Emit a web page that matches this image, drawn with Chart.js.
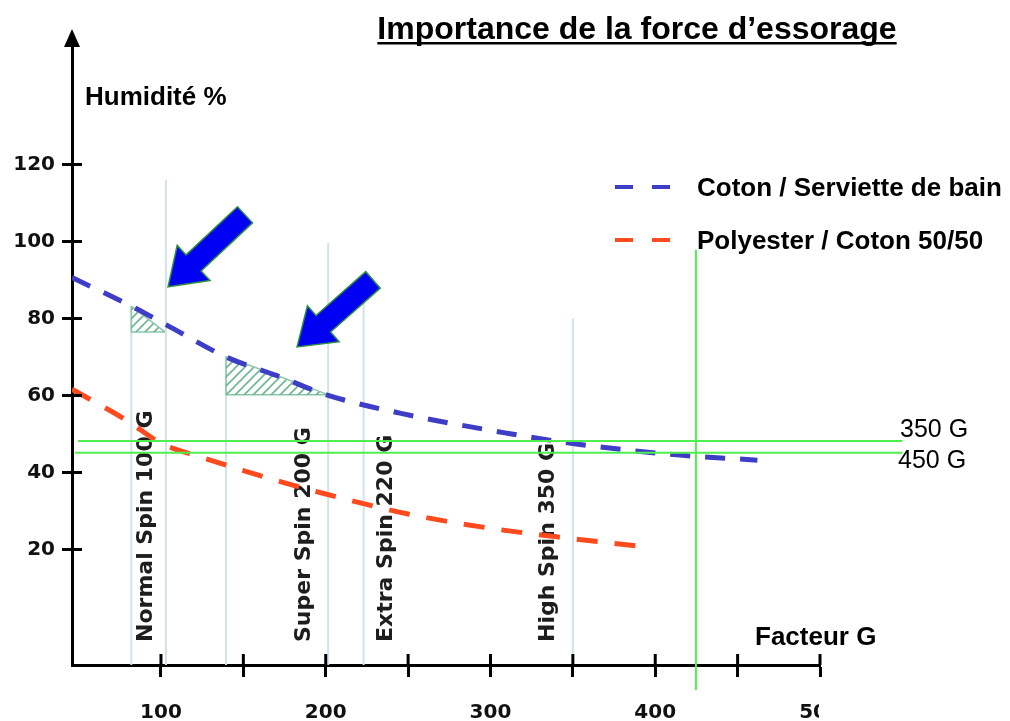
<!DOCTYPE html>
<html lang="fr">
<head>
<meta charset="utf-8">
<title>Importance de la force d’essorage</title>
<script src="https://cdn.jsdelivr.net/npm/chart.js"></script>
<style>
  html, body { margin: 0; padding: 0; background: #fff; }
  #wrap { width: 1010px; height: 721px; position: relative; }
</style>
</head>
<body>
<div id="wrap"><canvas id="graphique"></canvas></div>
<script>
// Courbes : humidité résiduelle (%) selon le facteur G
const facteurGCoton = [46, 82, 103, 139.5, 170, 201, 245, 310, 352, 415, 462];
const humiditeCoton = [90.6, 83.2, 78.4, 70.0, 65.2, 60.1, 55.4, 50.2, 47.4, 44.5, 43.2];
const facteurGPoly = [46, 80, 100, 125, 150, 175, 200, 250, 300, 350, 397];
const humiditePoly = [61.6, 53.3, 47.6, 43.9, 40.5, 37.3, 34.4, 29.2, 25.5, 22.8, 20.5];
const seriesLabels = ['Coton / Serviette de bain', 'Polyester / Coton 50/50'];

const yTicks = [20, 40, 60, 80, 100, 120];
const xTicks = [100, 150, 200, 250, 300, 350, 400, 450, 500];

// programmes d'essorage
const spinNames = ['Normal Spin 100 G', 'Super Spin 200 G', 'Extra Spin 220 G', 'High Spin 350 G'];
const spinLabelG = [91, 187, 237, 335];
const repereG = [82, 103, 139.5, 201.5, 223, 350];
const repereHaut = [83, 116, 70, 99.6, 87.4, 80];

// zones hachurées : g début, g fin, humidité haut, humidité bas
const zone1 = [82, 102.4, 83.2, 76.5];
const zone2 = [139.5, 201.4, 70.1, 60.2];

// flèches bleues : g queue, hum queue, g pointe, hum pointe
const fleche1 = [151, 106.9, 104.3, 88.2];
const fleche2 = [228.7, 90.0, 182.6, 72.6];

// repères verts 350 G / 450 G
const niveauxVerts = [48.2, 45.1];
const niveauxDebut = [49.6, 47.8];
const niveauxLabels = ['350 G', '450 G'];
const gVert = 424.7;
const gVertHaut = 97.8;

const Y_MIN = -10, Y_MAX = 151;
const X_MIN = 46, X_MAX = 500;

Chart.defaults.font.family = 'DejaVu Sans';

// motif de hachures
const hatchCanvas = document.createElement('canvas');
hatchCanvas.width = 9; hatchCanvas.height = 9;
const hctx = hatchCanvas.getContext('2d');
hctx.strokeStyle = 'rgba(95,175,135,0.9)';
hctx.lineWidth = 1.6;
hctx.beginPath();
hctx.moveTo(-1, 10); hctx.lineTo(10, -1);
hctx.moveTo(-1, 1); hctx.lineTo(1, -1);
hctx.moveTo(8, 10); hctx.lineTo(10, 8);
hctx.stroke();
const hatch = hctx.createPattern(hatchCanvas, 'repeat');

const pts = (xs, ys) => xs.map((x, i) => ({ x: x, y: ys[i] }));

const datasets = [
  {
    label: seriesLabels[0],
    data: pts(facteurGCoton, humiditeCoton),
    borderColor: '#3d3dc8',
    borderWidth: 5,
    borderDash: [20, 15],
    cubicInterpolationMode: 'monotone',
    pointRadius: 0,
    fill: false,
    order: 1
  },
  {
    label: seriesLabels[1],
    data: pts(facteurGPoly, humiditePoly),
    borderColor: '#ff4a1e',
    borderWidth: 5,
    borderDash: [21, 17],
    cubicInterpolationMode: 'monotone',
    pointRadius: 0,
    fill: false,
    order: 1
  }
];

repereG.forEach((g, i) => {
  datasets.push({
    data: [{ x: g, y: repereHaut[i] }, { x: g, y: Y_MIN }],
    borderColor: '#cfe3ea',
    borderWidth: 2,
    pointRadius: 0,
    fill: false,
    order: 5
  });
});

[zone1, zone2].forEach(z => {
  datasets.push({
    data: [{ x: z[0], y: z[2] }, { x: z[1], y: z[3] }],
    fill: { value: z[3] },
    backgroundColor: hatch,
    borderColor: '#8cc7aa',
    borderWidth: 1.5,
    pointRadius: 0,
    order: 3
  });
  datasets.push({
    data: [{ x: z[0], y: z[2] }, { x: z[0], y: z[3] }, { x: z[1], y: z[3] }],
    borderColor: '#8cc7aa',
    borderWidth: 1.5,
    pointRadius: 0,
    fill: false,
    order: 3
  });
});

niveauxVerts.forEach((v, i) => {
  datasets.push({
    data: [{ x: niveauxDebut[i], y: v }, { x: 550, y: v }],
    borderColor: '#4df04d',
    borderWidth: 2,
    pointRadius: 0,
    fill: false,
    clip: false,
    order: 0
  });
});
datasets.push({
  data: [{ x: gVert, y: gVertHaut }, { x: gVert, y: -16.5 }],
  borderColor: '#4df04d',
  borderWidth: 2,
  pointRadius: 0,
  fill: false,
  clip: false,
  order: 0
});

function drawArrow(ctx, x1, y1, x2, y2) {
  const ang = Math.atan2(y2 - y1, x2 - x1);
  const L = Math.hypot(x2 - x1, y2 - y1);
  const sw = 11, hw = 24, hl = 35;
  ctx.save();
  ctx.translate(x1, y1);
  ctx.rotate(ang);
  ctx.beginPath();
  ctx.moveTo(0, -sw);
  ctx.lineTo(L - hl, -sw);
  ctx.lineTo(L - hl, -hw);
  ctx.lineTo(L, 0);
  ctx.lineTo(L - hl, hw);
  ctx.lineTo(L - hl, sw);
  ctx.lineTo(0, sw);
  ctx.closePath();
  ctx.fillStyle = '#0000f2';
  ctx.fill();
  ctx.strokeStyle = '#2f8f3f';
  ctx.lineWidth = 1.5;
  ctx.stroke();
  ctx.restore();
}

const decor = {
  id: 'decor',
  beforeDatasetsDraw(chart) {
    const { ctx, scales: { x } } = chart;
    ctx.save();
    ctx.fillStyle = '#1e1e1e';
    ctx.font = 'bold 22px "DejaVu Sans"';
    ctx.textAlign = 'left';
    ctx.textBaseline = 'middle';
    spinNames.forEach((t, i) => {
      ctx.save();
      ctx.translate(x.getPixelForValue(spinLabelG[i]), 642);
      ctx.rotate(-Math.PI / 2);
      ctx.fillText(t, 0, 0);
      ctx.restore();
    });
    ctx.restore();
  },
  afterDatasetsDraw(chart) {
    const { ctx, scales: { x, y } } = chart;
    [fleche1, fleche2].forEach(f => {
      drawArrow(ctx, x.getPixelForValue(f[0]), y.getPixelForValue(f[1]),
        x.getPixelForValue(f[2]), y.getPixelForValue(f[3]));
    });
  },
  afterDraw(chart) {
    const { ctx, chartArea: a, scales: { x, y } } = chart;
    ctx.save();
    // graduations côté intérieur
    ctx.strokeStyle = '#000';
    ctx.lineWidth = 3;
    ctx.beginPath();
    yTicks.forEach(v => {
      const py = y.getPixelForValue(v);
      ctx.moveTo(a.left, py); ctx.lineTo(a.left + 10, py);
    });
    xTicks.forEach(v => {
      const px = x.getPixelForValue(v);
      ctx.moveTo(px, a.bottom); ctx.lineTo(px, a.bottom - 11);
    });
    ctx.stroke();
    // flèche de l'axe vertical
    ctx.beginPath();
    ctx.moveTo(a.left, a.top - 16);
    ctx.lineTo(a.left - 8, a.top + 2);
    ctx.lineTo(a.left + 8, a.top + 2);
    ctx.closePath();
    ctx.fillStyle = '#000';
    ctx.fill();

    // titre
    ctx.fillStyle = '#000';
    ctx.font = 'bold 32px "Liberation Sans"';
    ctx.textAlign = 'center';
    ctx.textBaseline = 'alphabetic';
    const titre = 'Importance de la force d’essorage';
    ctx.fillText(titre, 637, 39);
    const tw = ctx.measureText(titre).width;
    ctx.fillRect(637 - tw / 2, 42, tw, 2.5);

    ctx.textAlign = 'left';
    ctx.font = 'bold 26px "Liberation Sans"';
    ctx.fillText('Humidité %', 85, 105);
    ctx.fillText('Facteur G', 755, 645);

    // légende
    const legendY = [187, 240];
    chart.data.datasets.slice(0, 2).forEach((ds, i) => {
      ctx.save();
      ctx.strokeStyle = ds.borderColor;
      ctx.lineWidth = 4;
      ctx.setLineDash([18, 19]);
      ctx.beginPath();
      ctx.moveTo(615, legendY[i]);
      ctx.lineTo(672, legendY[i]);
      ctx.stroke();
      ctx.restore();
      ctx.textBaseline = 'middle';
      ctx.fillText(ds.label, 697, legendY[i] + 2);
    });

    // étiquettes des repères verts
    ctx.font = '25px "Liberation Sans"';
    ctx.textBaseline = 'alphabetic';
    ctx.fillText(niveauxLabels[0], 900, 437);
    ctx.fillText(niveauxLabels[1], 898, 468);

    // bord coupé de l'image d'origine
    ctx.fillStyle = '#fff';
    ctx.fillRect(819, 688, 191, 33);
    ctx.restore();
  }
};

new Chart(document.getElementById('graphique'), {
  type: 'line',
  data: { datasets: datasets },
  options: {
    responsive: true,
    maintainAspectRatio: false,
    animation: false,
    events: [],
    layout: { padding: { top: 45, right: 190, left: 0, bottom: 0 } },
    plugins: {
      legend: { display: false },
      tooltip: { enabled: false },
      title: { display: false }
    },
    scales: {
      x: {
        type: 'linear',
        min: X_MIN,
        max: X_MAX,
        afterBuildTicks: s => { s.ticks = xTicks.map(v => ({ value: v })); },
        afterFit: s => { s.height = 56; },
        border: { display: true, color: '#000', width: 3 },
        grid: { drawOnChartArea: false, drawTicks: true, tickLength: 12, tickWidth: 3, tickColor: '#000' },
        ticks: {
          autoSkip: false,
          maxRotation: 0,
          padding: 24,
          color: '#111',
          font: { size: 20, weight: 'bold', family: 'DejaVu Sans' },
          callback: v => (v % 100 === 0 ? String(v) : '')
        }
      },
      y: {
        type: 'linear',
        min: Y_MIN,
        max: Y_MAX,
        afterBuildTicks: s => { s.ticks = yTicks.map(v => ({ value: v })); },
        afterFit: s => { s.width = 72; },
        border: { display: true, color: '#000', width: 3 },
        grid: { drawOnChartArea: false, drawTicks: true, tickLength: 10, tickWidth: 3, tickColor: '#000' },
        ticks: {
          autoSkip: false,
          padding: 7,
          color: '#111',
          font: { size: 20, weight: 'bold', family: 'DejaVu Sans' }
        }
      }
    }
  },
  plugins: [decor]
});
</script>
</body>
</html>
